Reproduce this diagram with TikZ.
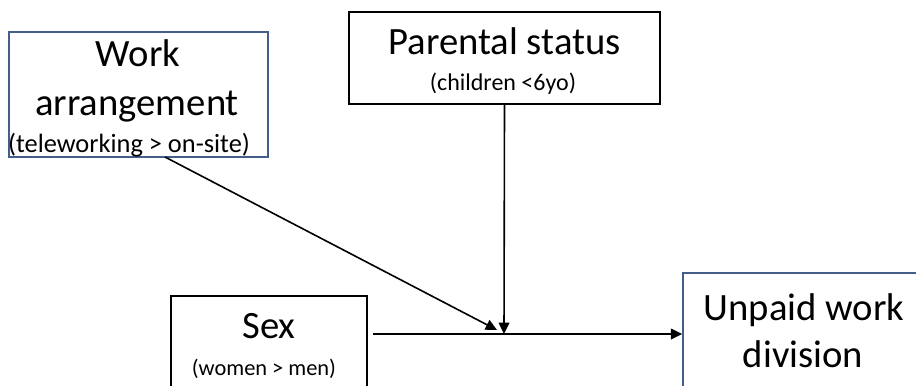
\documentclass[tikz,border=0pt]{standalone}
\usepackage{fontspec}
\setmainfont{Carlito}
\usetikzlibrary{arrows.meta}
\definecolor{boxblue}{RGB}{68,94,138}
\begin{document}
\begin{tikzpicture}[
  x=0.75pt, y=-0.75pt,
  box/.style = {draw, line width=1.2pt, inner sep=0pt},
  bluebox/.style = {box, draw=boxblue},
  big/.style = {font=\fontsize{29}{35}\selectfont, inner sep=0pt, anchor=base},
  small/.style = {font=\fontsize{18}{22}\selectfont, inner sep=0pt, anchor=base},
  arr/.style = {line width=1.2pt, -{Triangle[length=8.5pt, width=8pt]}}]
\useasboundingbox (0,0) rectangle (916,385);
\begin{scope}
\clip (0,0) rectangle (916,385);
\node[bluebox, minimum width=194.25pt, minimum height=93.75pt] (work) at (138.5,94.5) {};
\node[box, minimum width=233.25pt, minimum height=69pt] (parental) at (504.5,58) {};
\node[box, minimum width=147pt, minimum height=93pt] (sex) at (269,358) {};
\node[bluebox, minimum width=181.5pt, minimum height=110.25pt] (unpaid) at (804,346.5) {};
\end{scope}
\node[big] (work-a) at (138,67) {Work};
\node[big] (work-b) at (137,115) {arrangement};
\node[small, font=\fontsize{19.8}{24}\selectfont] (work-c) at (129,152) {(teleworking > on-site)};
\node[big] (parental-a) at (504.5,55) {Parental status};
\node[small] (parental-b) at (503,90) {(children <6yo)};
\node[big] (sex-a) at (269,338) {Sex};
\node[small, font=\fontsize{16.8}{20}\selectfont] (sex-b) at (264,375) {(women > men)};
\node[big] (unpaid-a) at (804,320) {Unpaid work};
\node[big] (unpaid-b) at (803,367) {division};
\coordinate (joint) at (504,334);
\coordinate (worktail) at (165,157);
\coordinate (worktip) at (497,330);
\draw[arr, shorten <=3.75pt] (sex.east |- joint) -- (unpaid.west |- joint);
\draw[arr] (parental.south) -- (joint);
\draw[arr] (worktail) -- (worktip);
\end{tikzpicture}
\end{document}
